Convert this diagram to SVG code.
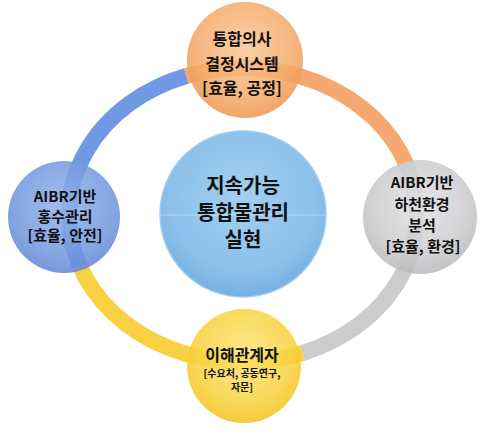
<svg xmlns="http://www.w3.org/2000/svg" width="489" height="433" viewBox="0 0 489 433">
<defs>
<radialGradient id="gOrange" cx="50%" cy="40%" r="60%">
<stop offset="0" stop-color="#f9c797"/><stop offset="0.7" stop-color="#f4aa6a"/><stop offset="1" stop-color="#ee9650"/>
</radialGradient>
<radialGradient id="gBlue" cx="50%" cy="40%" r="60%">
<stop offset="0" stop-color="#93b3ea"/><stop offset="0.7" stop-color="#7498de"/><stop offset="1" stop-color="#6187d6"/>
</radialGradient>
<radialGradient id="gGray" cx="50%" cy="40%" r="60%">
<stop offset="0" stop-color="#e2e2e4"/><stop offset="0.7" stop-color="#cbcbcd"/><stop offset="1" stop-color="#b9b9bc"/>
</radialGradient>
<radialGradient id="gYellow" cx="50%" cy="40%" r="60%">
<stop offset="0" stop-color="#fde57a"/><stop offset="0.7" stop-color="#f8d23e"/><stop offset="1" stop-color="#f2c21c"/>
</radialGradient>
<radialGradient id="gCenter" cx="50%" cy="40%" r="60%">
<stop offset="0" stop-color="#a3cff0"/><stop offset="0.75" stop-color="#8cc0ea"/><stop offset="1" stop-color="#74b0e2"/>
</radialGradient>
</defs>
<style>
.ring{fill:none;stroke-width:16;stroke-opacity:0.9}
.node{fill-opacity:0.86}
.t{font-family:"Noto Sans CJK KR","Noto Sans",sans-serif;font-weight:bold;fill:#111;text-anchor:middle}
</style>
<rect width="489" height="433" fill="#ffffff"/>
<g id="connectors">
<path class="ring" stroke="#5f8fe0" d="M 79.5 265.3 A 174 147 0 0 1 186.4 76.0"/>
<path class="ring" stroke="#f4a062" d="M 186.4 76.0 A 174 147 0 0 1 406.5 164.7"/>
<path class="ring" stroke="#c6c6c8" d="M 406.5 164.7 A 174 147 0 0 1 302.5 353.1"/>
<path class="ring" stroke="#f6cc2c" d="M 302.5 353.1 A 174 147 0 0 1 79.5 265.3"/>
</g>
<g id="center">
<circle cx="243" cy="214" r="83" fill="url(#gCenter)" stroke="#9fcdf0" stroke-width="1.5"/>
<line x1="160" y1="215" x2="326" y2="215" stroke="#ffffff" stroke-opacity="0.35" stroke-width="1"/>
<text class="t" x="243" y="193" font-size="20">지속가능</text>
<text class="t" x="243" y="220" font-size="20">통합물관리</text>
<text class="t" x="243" y="247" font-size="20">실현</text>
</g>
<g id="node-top">
<circle class="node" cx="245" cy="60" r="58" fill="url(#gOrange)"/>
<text class="t" x="242" y="45" font-size="16">통합의사</text>
<text class="t" x="242" y="70" font-size="16">결정시스템</text>
<text class="t" x="242" y="94" font-size="16">[효율, 공정]</text>
</g>
<g id="node-left">
<circle class="node" cx="64" cy="217" r="56" fill="url(#gBlue)"/>
<text class="t" x="65" y="202" font-size="15">AIBR기반</text>
<text class="t" x="65" y="222" font-size="15">홍수관리</text>
<text class="t" x="65" y="241" font-size="15">[효율, 안전]</text>
</g>
<g id="node-right">
<circle class="node" cx="420" cy="217" r="57" fill="url(#gGray)"/>
<text class="t" x="422" y="188" font-size="15">AIBR기반</text>
<text class="t" x="422" y="210" font-size="15">하천환경</text>
<text class="t" x="422" y="231" font-size="15">분석</text>
<text class="t" x="423" y="252" font-size="15">[효율, 환경]</text>
</g>
<g id="node-bottom">
<circle class="node" cx="244" cy="366" r="57" fill="url(#gYellow)"/>
<text class="t" x="242" y="361" font-size="16">이해관계자</text>
<text class="t" x="242" y="377" font-size="10">[수요처, 공동연구,</text>
<text class="t" x="242" y="391" font-size="10">자문]</text>
</g>
</svg>
